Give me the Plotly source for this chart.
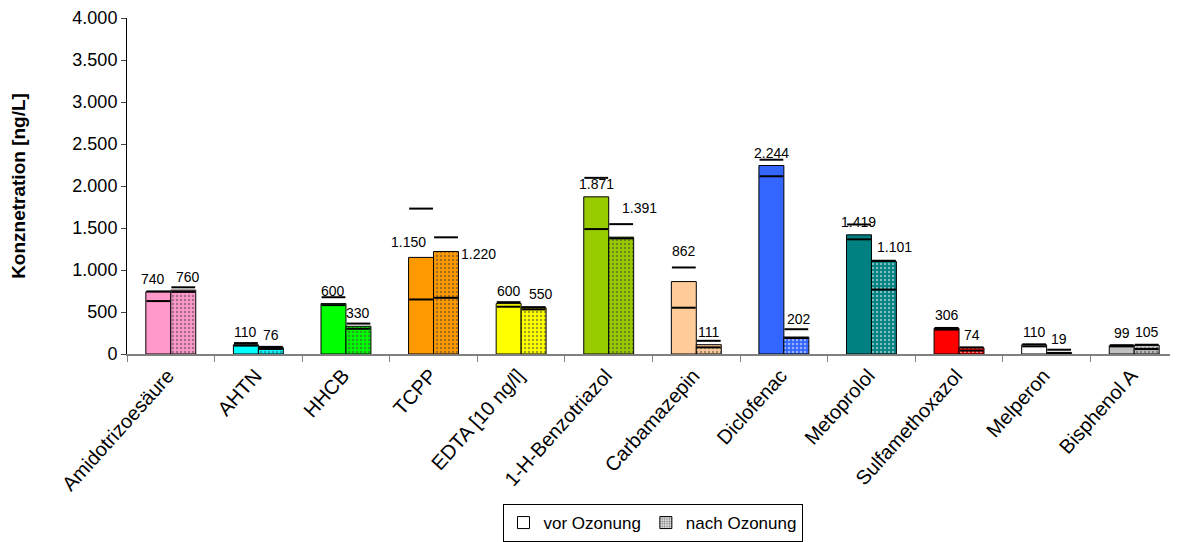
import plotly.graph_objects as go

# ==== DATA ====
substances = ["Amidotrizoesäure", "AHTN", "HHCB", "TCPP", "EDTA [10 ng/l]", "1-H-Benzotriazol",
              "Carbamazepin", "Diclofenac", "Metoprolol", "Sulfamethoxazol", "Melperon", "Bisphenol A"]
vor = [740, 110, 600, 1150, 600, 1871, 862, 2244, 1419, 306, 110, 99]
nach = [760, 76, 330, 1220, 550, 1391, 111, 202, 1101, 74, 19, 105]
vor_min = [630, 100, 582, 649, 563, 1487, 551, 2116, 1365, 290, 91, 91]
vor_max = [745, 130, 676, 1731, 617, 2097, 1030, 2313, 1542, 310, 115, 105]
nach_min = [740, 60, 300, 669, 531, 1377, 79, 190, 767, 40, 10, 59]
nach_max = [794, 85, 362, 1389, 558, 1546, 157, 295, 1110, 79, 51, 110]
colors = ["#FF99CC", "#00FFFF", "#00FF00", "#FF9900", "#FFFF00", "#99CC00",
          "#FFCC99", "#3366FF", "#008080", "#FF0000", "#FFFFFF", "#C0C0C0"]

# label nudges (xshift, yshift in px) where the labels were moved by hand
vor_nudge = {0: (-5, 13), 3: (-13, 15), 6: (0, 31)}
nach_nudge = {0: (5, 13), 3: (32, -2), 4: (7, 14), 5: (18, 29), 7: (3, 18), 8: (11, 15)}

FONT = "Liberation Sans, Arial, sans-serif"
fig = go.Figure()

# ==== BARS ====
fig.add_trace(go.Bar(
    x=substances, y=vor, name="vor Ozonung", showlegend=False,
    marker=dict(color=colors, line=dict(color="black", width=1)),
))
fig.add_trace(go.Bar(
    x=substances, y=nach, name="nach Ozonung", showlegend=False,
    marker=dict(color=colors, line=dict(color="black", width=1),
                pattern=dict(shape=".", fgcolor="black", bgcolor=colors,
                             size=4, solidity=0.3, fillmode="overlay")),
))

# ==== MIN / MAX DASHES (numeric overlay axis) ====
idx = list(range(len(substances)))
off = 0.1425
for lo, hi, sign in [(vor_min, vor_max, -1), (nach_min, nach_max, 1)]:
    fig.add_trace(go.Scatter(
        x=[i + sign * off for i in idx] * 2, y=lo + hi,
        xaxis="x2", mode="markers", showlegend=False, hoverinfo="skip",
        marker=dict(symbol="line-ew", size=17, line=dict(color="black", width=2)),
    ))

# ==== VALUE LABELS ====
for vals, sign, nudge in [(vor, -1, vor_nudge), (nach, 1, nach_nudge)]:
    for i, v in enumerate(vals):
        dx, dy = nudge.get(i, (0, 13))
        fig.add_annotation(
            x=i + sign * off, y=v, xref="x2", yref="y",
            text=f"{v:,}".replace(",", "."), showarrow=False,
            xanchor="center", yanchor="middle", xshift=dx, yshift=dy,
            font=dict(size=14, color="black"),
        )

# ==== LEGEND DUMMIES ====
fig.add_trace(go.Bar(x=[0], y=[None], xaxis="x2", name="vor Ozonung", showlegend=True,
                     marker=dict(color="white", line=dict(color="black", width=1))))
fig.add_trace(go.Bar(x=[0], y=[None], xaxis="x2", name="nach Ozonung", showlegend=True,
                     marker=dict(color="white", line=dict(color="black", width=1),
                                 pattern=dict(shape=".", fgcolor="black", size=3, solidity=0.5))))

fig.update_layout(
    width=1170, height=534,
    margin=dict(l=119, r=0, t=10, b=187),
    paper_bgcolor="white", plot_bgcolor="white",
    font=dict(family=FONT, size=17, color="black"),
    separators=",.",
    showlegend=True,
    barmode="group", bargap=0.43, bargroupgap=0,
    xaxis=dict(type="category", tickson="boundaries", ticks="outside", ticklen=6,
               tickcolor="#808080", showline=True, linecolor="#808080", linewidth=2,
               tickangle=-48, tickfont=dict(size=20), showgrid=False, ticklabelshift=-3),
    xaxis2=dict(overlaying="x", range=[-0.5, 11.5], visible=False),
    yaxis=dict(range=[0, 4000], dtick=500, tickformat=",", ticks="outside", ticklen=5,
               showline=True, linecolor="black", linewidth=1, showgrid=False,
               zeroline=False, tickfont=dict(size=18),
               title=dict(text="<b>Konznetration [ng/L]</b>", font=dict(size=19), standoff=42)),
    legend=dict(orientation="h", x=0.5, xanchor="center", y=-0.445, yanchor="top",
                bordercolor="black", borderwidth=1, font=dict(size=17),
                itemwidth=30, tracegroupgap=0),
)

fig.write_html("out.html")
